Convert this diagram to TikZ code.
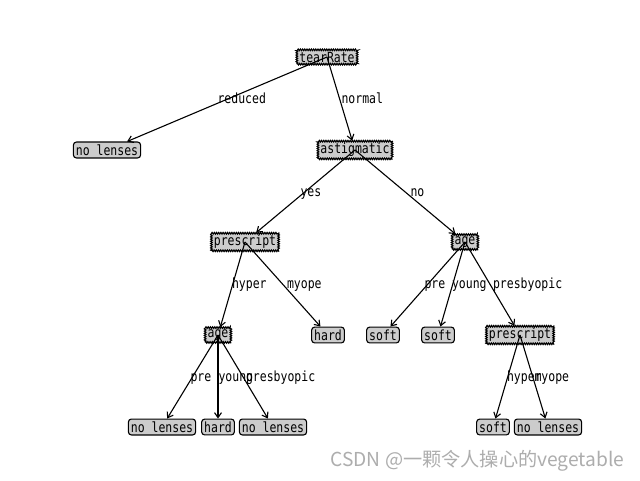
\documentclass[tikz,border=0pt]{standalone}
\usepackage{fontspec}
\usetikzlibrary{arrows.meta,calc,decorations.pathmorphing}
\newfontfamily\treefont{DejaVu Sans Mono}[FakeStretch=0.82]
\newfontfamily\markfont{Noto Sans CJK SC}
\tikzset{
tree/.style={x=1pt,y=-1pt,line width=1.1pt,
>={Straight Barb[length=5pt,width=7pt]},font=\treefont\fontsize{14}{14}\selectfont},
decision/.style={draw,fill=black!20,inner xsep=2.5pt,inner ysep=2pt,
decorate,decoration={zigzag,segment length=2.2pt,amplitude=0.8pt}},
leaf/.style={draw,fill=black!20,rounded corners=3pt,inner xsep=2.5pt,inner ysep=2.5pt},
branch/.style={anchor=base west,inner sep=0pt},
}

\begin{document}
\begin{tikzpicture}[tree]
\useasboundingbox[fill=white] (0,0) rectangle (640,480);
% nodes
\node[decision] (tear) at (327,57) {tearRate};
\node[leaf] (nl1) at (107,150) {no lenses};
\node[decision] (astig) at (355,150) {astigmatic};
\node[decision] (pres1) at (245,242) {prescript};
\node[decision] (age1) at (465,242) {age};
\node[decision] (age2) at (218,335) {age};
\node[leaf] (hard1) at (328,335) {hard};
\node[leaf] (soft1) at (383,335) {soft};
\node[leaf] (soft2) at (438,335) {soft};
\node[decision] (pres2) at (520,335) {prescript};
\node[leaf] (nl2) at (162,427) {no lenses};
\node[leaf] (hard2) at (218,427) {hard};
\node[leaf] (nl3) at (273,427) {no lenses};
\node[leaf] (soft3) at (493,427) {soft};
\node[leaf] (nl4) at (548,427) {no lenses};

% arrows
\foreach \child/\parent in {nl1/tear,astig/tear,pres1/astig,age1/astig,
  age2/pres1,hard1/pres1,soft1/age1,soft2/age1,pres2/age1,
  nl2/age2,hard2/age2,nl3/age2,soft3/pres2,nl4/pres2}
  \draw[<-] (\child) -- (\parent.center);

% branch labels
\node[branch] (lreduced) at ($(tear)!0.5!(nl1)$) {reduced};
\node[branch] (lnormal) at ($(tear)!0.5!(astig)$) {normal};
\node[branch] (lyes) at ($(astig)!0.5!(pres1)$) {yes};
\node[branch] (lno) at ($(astig)!0.5!(age1)$) {no};
\node[branch] (lhyper1) at ($(pres1)!0.5!(age2)$) {hyper};
\node[branch] (lmyope1) at ($(pres1)!0.5!(hard1)$) {myope};
\node[branch] (lpre1) at ($(age1)!0.5!(soft1)$) {pre};
\node[branch] (lyoung1) at ($(age1)!0.5!(soft2)$) {young};
\node[branch] (lpresby1) at ($(age1)!0.5!(pres2)$) {presbyopic};
\node[branch] (lpre2) at ($(age2)!0.5!(nl2)$) {pre};
\node[branch] (lyoung2) at ($(age2)!0.5!(hard2)$) {young};
\node[branch] (lpresby2) at ($(age2)!0.5!(nl3)$) {presbyopic};
\node[branch] (lhyper2) at ($(pres2)!0.5!(soft3)$) {hyper};
\node[branch] (lmyope2) at ($(pres2)!0.5!(nl4)$) {myope};

\node[font=\markfont\fontsize{19.2}{19.2}\selectfont,text=black!32,anchor=east,inner sep=0pt]
  (mark) at (625,461) {CSDN @一颗令人操心的vegetable};
\end{tikzpicture}
\end{document}
